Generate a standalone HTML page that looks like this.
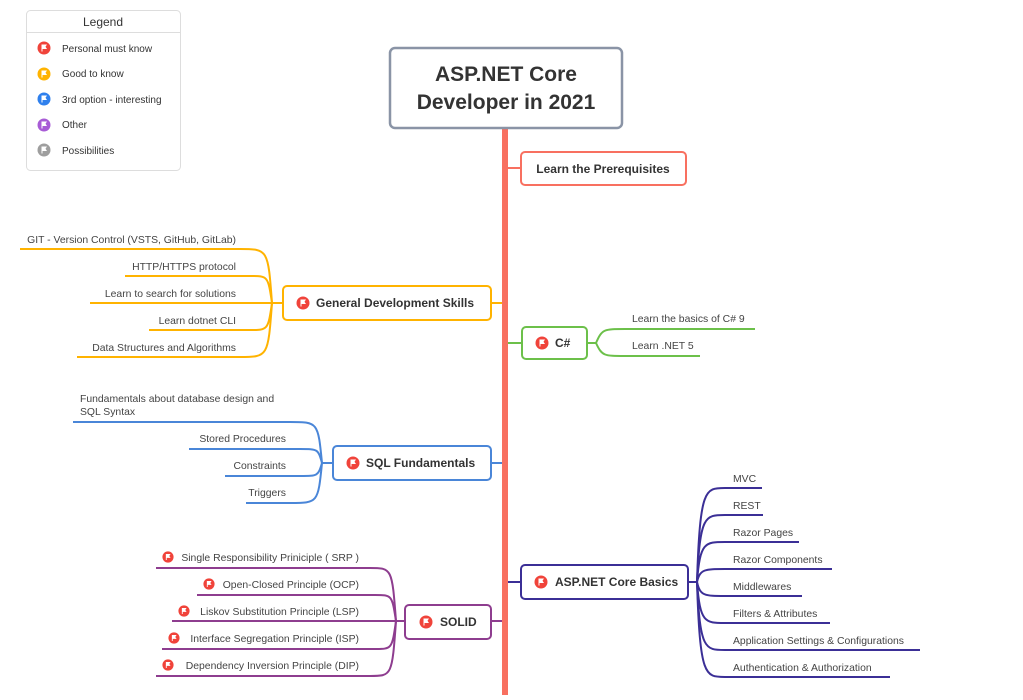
<!DOCTYPE html>
<html><head><meta charset="utf-8"><style>
body{margin:0;background:#fff;width:1023px;height:695px;overflow:hidden}
svg text{font-family:"Liberation Sans","DejaVu Sans",sans-serif}
.l{font-size:10.4px;fill:#444}
.b{font-size:12px;font-weight:bold;fill:#333}
</style></head><body>
<svg width="1023" height="695" viewBox="0 0 1023 695" xmlns="http://www.w3.org/2000/svg">
<defs>
<symbol id="f" viewBox="-7 -7 14 14"><circle r="6.5" fill="currentColor"/><path d="M-2.5,3.5 V-3.5 H3 L1.5,-1.2 L3,1 H-1.5 V3.5Z" fill="#fff"/></symbol>
</defs>
<!-- legend -->
<rect x="26.5" y="10.5" width="154" height="160" rx="4" fill="#fff" stroke="#ddd"/>
<line x1="27" y1="32.5" x2="180" y2="32.5" stroke="#ddd"/>
<text x="103" y="26" text-anchor="middle" font-size="12" fill="#333">Legend</text>
<use href="#f" x="37" y="41" width="14" height="14" color="#f0433a"/><text x="62" y="52" font-size="10" fill="#333">Personal must know</text>
<use href="#f" x="37" y="67" width="14" height="14" color="#ffb300"/><text x="62" y="77" font-size="10" fill="#333">Good to know</text>
<use href="#f" x="37" y="92" width="14" height="14" color="#2f80ed"/><text x="62" y="103" font-size="10" fill="#333">3rd option - interesting</text>
<use href="#f" x="37" y="118" width="14" height="14" color="#a85cd6"/><text x="62" y="128" font-size="10" fill="#333">Other</text>
<use href="#f" x="37" y="143" width="14" height="14" color="#9e9e9e"/><text x="62" y="154" font-size="10" fill="#333">Possibilities</text>

<!-- trunk -->
<rect x="502" y="128" width="6" height="567" fill="#f87060"/>
<!-- root -->
<rect x="390" y="48" width="232" height="80" rx="5" fill="#fff" stroke="#8a94a6" stroke-width="2.5"/>
<text x="506" y="81" text-anchor="middle" font-size="21" font-weight="bold" fill="#333">ASP.NET Core</text>
<text x="506" y="109" text-anchor="middle" font-size="21" font-weight="bold" fill="#333">Developer in 2021</text>

<!-- prereq -->
<path d="M508,168 H521" stroke="#f87060" stroke-width="2" fill="none"/>
<rect x="521" y="152" width="165" height="33" rx="4" fill="#fff" stroke="#f87060" stroke-width="2"/>
<text x="603" y="173" text-anchor="middle" class="b">Learn the Prerequisites</text>

<!-- General -->
<g stroke="#ffb300" stroke-width="2" fill="none">
<path d="M491,303 H502"/>
<path d="M283,303 H272"/>
<path d="M272,303 C268,249 268,249 240,249 H20"/>
<path d="M272,303 C268,276 268,276 250,276 H125"/>
<path d="M272,303 H90"/>
<path d="M272,303 C268,330 268,330 250,330 H149"/>
<path d="M272,303 C268,357 268,357 240,357 H77"/>
</g>
<rect x="283" y="286" width="208" height="34" rx="4" fill="#fff" stroke="#ffb300" stroke-width="2"/>
<use href="#f" x="296" y="296" width="14" height="14" color="#f0433a"/>
<text x="316" y="307" class="b">General Development Skills</text>
<g class="l" text-anchor="end">
<text x="236" y="243">GIT - Version Control (VSTS, GitHub, GitLab)</text>
<text x="236" y="270">HTTP/HTTPS protocol</text>
<text x="236" y="297">Learn to search for solutions</text>
<text x="236" y="324">Learn dotnet CLI</text>
<text x="236" y="351">Data Structures and Algorithms</text>
</g>

<!-- C# -->
<g stroke="#6cc04a" stroke-width="2" fill="none">
<path d="M508,343 H522"/>
<path d="M587,343 H596"/>
<path d="M596,343 C602,329 604,329 625,329 H755"/>
<path d="M596,343 C602,356 604,356 625,356 H700"/>
</g>
<rect x="522" y="327" width="65" height="32" rx="4" fill="#fff" stroke="#6cc04a" stroke-width="2"/>
<use href="#f" x="535" y="336" width="14" height="14" color="#f0433a"/>
<text x="555" y="347" class="b">C#</text>
<text x="632" y="322" class="l">Learn the basics of C# 9</text>
<text x="632" y="349" class="l">Learn .NET 5</text>

<!-- SQL -->
<g stroke="#4a86d8" stroke-width="2" fill="none">
<path d="M491,463 H502"/>
<path d="M333,463 H322"/>
<path d="M322,463 C318,422 318,422 290,422 H73"/>
<path d="M322,463 C318,449 318,449 300,449 H189"/>
<path d="M322,463 C318,476 318,476 300,476 H225"/>
<path d="M322,463 C318,503 318,503 290,503 H246"/>
</g>
<rect x="333" y="446" width="158" height="34" rx="4" fill="#fff" stroke="#4a86d8" stroke-width="2"/>
<use href="#f" x="346" y="456" width="14" height="14" color="#f0433a"/>
<text x="366" y="467" class="b">SQL Fundamentals</text>
<text x="80" y="402" class="l">Fundamentals about database design and</text>
<text x="80" y="415" class="l">SQL Syntax</text>
<g class="l" text-anchor="end">
<text x="286" y="442">Stored Procedures</text>
<text x="286" y="469">Constraints</text>
<text x="286" y="496">Triggers</text>
</g>

<!-- ASP basics -->
<g stroke="#3b2f96" stroke-width="2" fill="none">
<path d="M508,582 H521"/>
<path d="M688,582 H697"/>
<path d="M697,582 C700,488 705,488 725,488 H762"/>
<path d="M697,582 C700,515 705,515 725,515 H763"/>
<path d="M697,582 C700,542 705,542 725,542 H799"/>
<path d="M697,582 C700,569 705,569 725,569 H832"/>
<path d="M697,582 C700,596 705,596 725,596 H802"/>
<path d="M697,582 C700,623 705,623 725,623 H830"/>
<path d="M697,582 C700,650 705,650 725,650 H920"/>
<path d="M697,582 C700,677 705,677 725,677 H890"/>
</g>
<rect x="521" y="565" width="167" height="34" rx="4" fill="#fff" stroke="#3b2f96" stroke-width="2"/>
<use href="#f" x="534" y="575" width="14" height="14" color="#f0433a"/>
<text x="555" y="586" class="b">ASP.NET Core Basics</text>
<g class="l">
<text x="733" y="482">MVC</text>
<text x="733" y="509">REST</text>
<text x="733" y="536">Razor Pages</text>
<text x="733" y="563">Razor Components</text>
<text x="733" y="590">Middlewares</text>
<text x="733" y="617">Filters &amp; Attributes</text>
<text x="733" y="644">Application Settings &amp; Configurations</text>
<text x="733" y="671">Authentication &amp; Authorization</text>
</g>

<!-- SOLID -->
<g stroke="#8e3d8f" stroke-width="2" fill="none">
<path d="M491,621 H502"/>
<path d="M405,621 H396"/>
<path d="M396,621 C392,568 392,568 370,568 H156"/>
<path d="M396,621 C392,595 392,595 375,595 H197"/>
<path d="M396,621 H172"/>
<path d="M396,621 C392,649 392,649 375,649 H162"/>
<path d="M396,621 C392,676 392,676 370,676 H156"/>
</g>
<rect x="405" y="605" width="86" height="34" rx="4" fill="#fff" stroke="#8e3d8f" stroke-width="2"/>
<use href="#f" x="419" y="615" width="14" height="14" color="#f0433a"/>
<text x="440" y="626" class="b">SOLID</text>
<g class="l" text-anchor="end">
<text x="359" y="561">Single Responsibility Priniciple ( SRP )</text>
<text x="359" y="588">Open-Closed Principle (OCP)</text>
<text x="359" y="615">Liskov Substitution Principle (LSP)</text>
<text x="359" y="642">Interface Segregation Principle (ISP)</text>
<text x="359" y="669">Dependency Inversion Principle (DIP)</text>
</g>
<use href="#f" x="162" y="551" width="12" height="12" color="#f0433a"/>
<use href="#f" x="203" y="578" width="12" height="12" color="#f0433a"/>
<use href="#f" x="178" y="605" width="12" height="12" color="#f0433a"/>
<use href="#f" x="168" y="632" width="12" height="12" color="#f0433a"/>
<use href="#f" x="162" y="659" width="12" height="12" color="#f0433a"/>
</svg>
</body></html>
